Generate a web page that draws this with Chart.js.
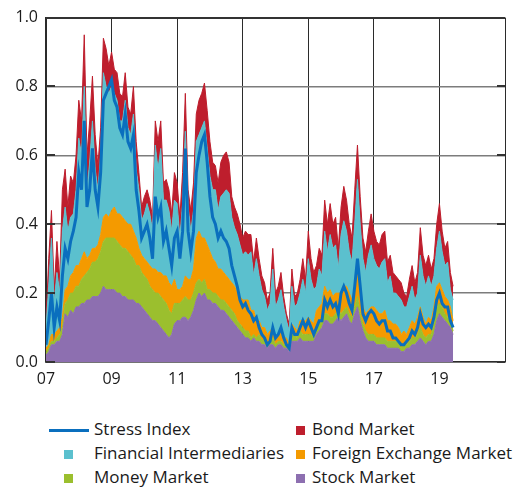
<!DOCTYPE html>
<html>
<head>
<meta charset="utf-8">
<script src="https://cdn.jsdelivr.net/npm/chart.js@4.4.1/dist/chart.umd.min.js"></script>
<style>
  html, body { margin: 0; padding: 0; background: #fff; }
  body { width: 513px; height: 491px; position: relative; overflow: hidden;
         font-family: 'Open Sans', Lato, sans-serif; color: #1a1a1a; }
  #wrap { position: absolute; left: 0; top: 0; width: 513px; height: 400px; }
  .lg { position: absolute; font-size: 17px; line-height: 20px; white-space: nowrap; }
  .sw { position: absolute; }
</style>
</head>
<body>
<div id="wrap"><canvas id="c" width="513" height="400"></canvas></div>
<div id="legend"></div>
<script>
// ── DATA (monthly, Jan 2007 – Jun 2019) ──────────────────────
const startYear = 2007;
const xTickLabels = ['07', '09', '11', '13', '15', '17', '19', ''];

const stockMarket = [
  .02,.03,.05,.05,.06,.06,.08,.14,.13,.15,.14,.16,   // 2007
  .16,.17,.17,.18,.18,.19,.19,.19,.20,.22,.21,.21,   // 2008
  .21,.21,.20,.20,.19,.19,.18,.18,.18,.17,.17,.16,   // 2009
  .15,.14,.13,.12,.12,.11,.10,.09,.08,.07,.08,.11,   // 2010
  .12,.12,.13,.13,.12,.13,.15,.18,.20,.19,.20,.18,   // 2011
  .18,.17,.17,.16,.15,.15,.14,.13,.12,.11,.10,.09,   // 2012
  .08,.07,.07,.06,.07,.06,.06,.05,.05,.04,.05,.05,   // 2013
  .04,.05,.05,.04,.04,.03,.06,.06,.06,.07,.06,.06,   // 2014
  .06,.06,.06,.08,.09,.10,.12,.12,.11,.11,.12,.13,   // 2015
  .12,.13,.14,.12,.11,.14,.16,.12,.09,.07,.06,.06,   // 2016
  .06,.05,.05,.05,.05,.04,.04,.04,.04,.04,.03,.03,   // 2017
  .04,.04,.05,.05,.06,.07,.06,.05,.06,.06,.08,.12,   // 2018
  .14,.13,.12,.11,.10,.08                            // 2019
];
const moneyMarket = [
  .01,.01,.01,.01,.01,.02,.02,.03,.05,.05,.06,.06,
  .06,.07,.08,.08,.09,.10,.10,.11,.12,.13,.15,.15,
  .15,.15,.15,.14,.14,.14,.14,.13,.12,.11,.11,.10,
  .10,.10,.09,.09,.08,.09,.09,.09,.09,.08,.06,.06,
  .05,.05,.05,.06,.06,.05,.05,.05,.04,.04,.04,.03,
  .03,.03,.03,.03,.03,.03,.03,.03,.03,.03,.02,.02,
  .02,.02,.02,.01,.01,.01,.02,.01,.02,.01,.01,.02,
  .01,.01,.01,.01,.01,.01,.02,.02,.01,.02,.02,.02,
  .02,.02,.01,.02,.02,.02,.02,.02,.02,.02,.02,.02,
  .02,.02,.02,.02,.02,.02,.03,.02,.02,.02,.02,.02,
  .02,.02,.02,.02,.02,.02,.02,.02,.02,.02,.01,.02,
  .01,.02,.02,.02,.02,.03,.02,.02,.02,.02,.03,.04,
  .03,.03,.02,.02,.02,.01
];
const fxMarket = [
  .01,.01,.02,.02,.02,.02,.03,.04,.04,.05,.06,.06,
  .06,.06,.07,.04,.04,.04,.04,.04,.05,.07,.07,.06,
  .08,.09,.08,.09,.09,.08,.08,.09,.08,.08,.05,.05,
  .05,.05,.06,.06,.07,.06,.07,.07,.08,.08,.08,.07,
  .04,.04,.04,.06,.06,.06,.07,.13,.14,.13,.12,.13,
  .11,.10,.09,.08,.09,.08,.08,.08,.08,.08,.08,.08,
  .08,.09,.09,.08,.07,.05,.04,.04,.03,.03,.03,.03,
  .02,.02,.03,.02,.02,.01,.03,.02,.02,.03,.04,.04,
  .05,.04,.04,.05,.05,.05,.08,.06,.08,.06,.06,.05,
  .06,.07,.06,.06,.05,.06,.07,.06,.05,.05,.07,.08,
  .08,.08,.07,.07,.08,.06,.06,.05,.05,.04,.04,.04,
  .03,.04,.05,.04,.05,.06,.05,.04,.05,.04,.05,.06,
  .06,.05,.05,.05,.04,.03
];
const finIntermediaries = [
  .06,.17,.28,.09,.17,.10,.25,.24,.16,.17,.17,.22,
  .37,.30,.48,.20,.27,.37,.23,.16,.23,.42,.37,.36,
  .36,.33,.33,.27,.28,.35,.28,.26,.34,.20,.17,.10,
  .13,.17,.15,.11,.36,.30,.36,.22,.22,.21,.16,.23,
  .25,.15,.24,.42,.21,.14,.17,.28,.28,.32,.34,.28,
  .22,.20,.21,.17,.21,.23,.25,.25,.19,.17,.17,.15,
  .13,.14,.13,.17,.10,.18,.13,.11,.09,.07,.08,.17,
  .09,.10,.12,.09,.05,.04,.11,.06,.08,.08,.12,.08,
  .17,.12,.10,.07,.11,.08,.16,.12,.16,.14,.14,.07,
  .17,.19,.16,.12,.11,.18,.27,.20,.14,.12,.16,.18,
  .14,.13,.13,.15,.15,.11,.13,.09,.09,.09,.10,.07,
  .08,.09,.10,.07,.07,.15,.12,.11,.12,.10,.09,.11,
  .15,.11,.09,.11,.05,.06
];
const bondMarket = [
  .02,.08,.08,.04,.09,.04,.12,.11,.07,.12,.09,.10,
  .11,.10,.15,.10,.12,.13,.10,.07,.08,.10,.11,.08,
  .10,.07,.08,.08,.07,.08,.06,.06,.08,.08,.05,.04,
  .05,.04,.04,.04,.07,.08,.08,.05,.06,.06,.05,.08,
  .06,.06,.09,.11,.05,.06,.08,.08,.10,.10,.11,.11,
  .10,.08,.07,.08,.10,.11,.11,.09,.06,.06,.06,.06,
  .05,.06,.06,.05,.04,.06,.05,.04,.04,.03,.03,.06,
  .04,.04,.05,.03,.02,.02,.05,.03,.03,.04,.06,.04,
  .08,.06,.05,.06,.06,.06,.09,.08,.09,.07,.08,.06,
  .08,.10,.09,.08,.07,.10,.10,.08,.06,.06,.07,.09,
  .08,.07,.07,.08,.08,.06,.06,.06,.05,.05,.05,.04,
  .03,.05,.06,.05,.06,.08,.06,.06,.06,.05,.05,.07,
  .08,.06,.05,.06,.05,.04
];
const stressIndex = [
  .05,.12,.20,.10,.16,.12,.25,.33,.30,.35,.38,.42,
  .55,.50,.70,.45,.50,.62,.50,.45,.55,.76,.78,.80,
  .82,.76,.74,.68,.66,.72,.64,.62,.66,.50,.44,.36,
  .38,.40,.36,.30,.48,.42,.45,.35,.38,.33,.28,.36,
  .38,.30,.38,.62,.38,.32,.38,.55,.60,.64,.66,.58,
  .48,.42,.40,.36,.38,.36,.35,.33,.28,.25,.22,.18,
  .16,.17,.15,.14,.12,.13,.10,.08,.07,.05,.06,.10,
  .07,.08,.10,.07,.05,.04,.10,.08,.08,.10,.12,.10,
  .12,.10,.08,.10,.12,.12,.18,.16,.18,.16,.17,.14,
  .20,.22,.20,.17,.15,.22,.30,.22,.14,.12,.14,.15,
  .14,.12,.11,.12,.12,.09,.09,.07,.07,.06,.05,.05,
  .06,.07,.09,.08,.10,.14,.11,.10,.11,.10,.13,.18,
  .20,.17,.16,.16,.12,.10
];

// ── STYLE ────────────────────────────────────────────────────
const COL = {
  stress: '#0A6FBE',
  bond:   '#BE1E2D',
  fi:     '#5BC0CE',
  fx:     '#F49A00',
  money:  '#9BBF2E',
  stock:  '#8D6FB0',
};
const FONT = '"Open Sans", Lato, sans-serif';

const xs = stockMarket.map((_, i) => startYear + i / 12);
const pts = arr => arr.map((v, i) => ({ x: xs[i], y: v }));

function area(label, values, color, fill) {
  return {
    label, data: pts(values), stack: 'parts', fill,
    backgroundColor: color, borderColor: color, borderWidth: 1,
    pointRadius: 0, tension: 0,
  };
}

// inward dark tick marks on left and right edges of the plot
const edgeTicks = {
  id: 'edgeTicks',
  afterDraw(chart) {
    const { ctx, chartArea: a, scales: { y } } = chart;
    ctx.save();
    ctx.strokeStyle = '#333';
    ctx.lineWidth = 2;
    y.ticks.forEach(t => {
      const py = Math.round(y.getPixelForValue(t.value));
      ctx.beginPath();
      ctx.moveTo(a.left, py); ctx.lineTo(a.left + 9, py);
      ctx.moveTo(a.right - 8, py); ctx.lineTo(a.right, py);
      ctx.stroke();
    });
    ctx.restore();
  }
};

new Chart(document.getElementById('c'), {
  type: 'line',
  data: {
    datasets: [
      { label: 'Stress Index', data: pts(stressIndex), stack: 'index', fill: false,
        borderColor: COL.stress, borderWidth: 3, pointRadius: 0, tension: 0 },
      area('Stock Market', stockMarket, COL.stock, 'origin'),
      area('Money Market', moneyMarket, COL.money, '-1'),
      area('Foreign Exchange Market', fxMarket, COL.fx, '-1'),
      area('Financial Intermediaries', finIntermediaries, COL.fi, '-1'),
      area('Bond Market', bondMarket, COL.bond, '-1'),
    ],
  },
  options: {
    responsive: false,
    animation: false,
    layout: { padding: { top: 11, right: 0, left: 0, bottom: 0 } },
    plugins: { legend: { display: false }, tooltip: { enabled: false } },
    scales: {
      x: {
        type: 'linear', min: 2007, max: 2021,
        afterFit: s => { s.height = 38; },
        ticks: {
          stepSize: 2, padding: 8, color: '#1a1a1a',
          font: { family: FONT, size: 16 },
          callback: v => xTickLabels[(v - startYear) / 2] ?? '',
        },
        grid: { color: '#2b2b2b', lineWidth: 1, drawTicks: false },
        border: { color: '#2b2b2b', width: 1.5 },
      },
      y: {
        stacked: true, min: 0, max: 1,
        afterFit: s => { s.width = 46; },
        ticks: {
          stepSize: 0.2, padding: 8, color: '#1a1a1a',
          font: { family: FONT, size: 16 },
          callback: v => v.toFixed(1),
        },
        grid: {
          drawTicks: false,
          color: c => c.tick && c.tick.value === 1 ? '#333' : '#7c7c7c',
          lineWidth: c => c.tick && c.tick.value === 1 ? 2 : 1.5,
        },
        border: { color: '#2b2b2b', width: 1.5 },
      },
    },
  },
  plugins: [edgeTicks],
});

// ── LEGEND ───────────────────────────────────────────────────
const legendItems = [
  { label: 'Stress Index',             color: COL.stress, kind: 'line', col: 0, row: 0 },
  { label: 'Bond Market',              color: COL.bond,   kind: 'box',  col: 1, row: 0 },
  { label: 'Financial Intermediaries', color: COL.fi,     kind: 'box',  col: 0, row: 1 },
  { label: 'Foreign Exchange Market',  color: COL.fx,     kind: 'box',  col: 1, row: 1 },
  { label: 'Money Market',             color: COL.money,  kind: 'box',  col: 0, row: 2 },
  { label: 'Stock Market',             color: COL.stock,  kind: 'box',  col: 1, row: 2 },
];
const rowY  = [430, 454, 478];
const colX  = [{ box: 64, text: 94 }, { box: 296, text: 312 }];
const legend = document.getElementById('legend');
legendItems.forEach(it => {
  const yc = rowY[it.row];
  const sw = document.createElement('div');
  sw.className = 'sw';
  sw.style.background = it.color;
  if (it.kind === 'line') {
    Object.assign(sw.style, { left: '49px', top: (yc - 1.5) + 'px', width: '40px', height: '3px' });
  } else {
    Object.assign(sw.style, { left: colX[it.col].box + 'px', top: (yc - 4.5) + 'px', width: '9px', height: '9px' });
  }
  const tx = document.createElement('div');
  tx.className = 'lg';
  tx.textContent = it.label;
  Object.assign(tx.style, { left: colX[it.col].text + 'px', top: (yc - 11) + 'px' });
  legend.appendChild(sw);
  legend.appendChild(tx);
});
</script>
</body>
</html>
